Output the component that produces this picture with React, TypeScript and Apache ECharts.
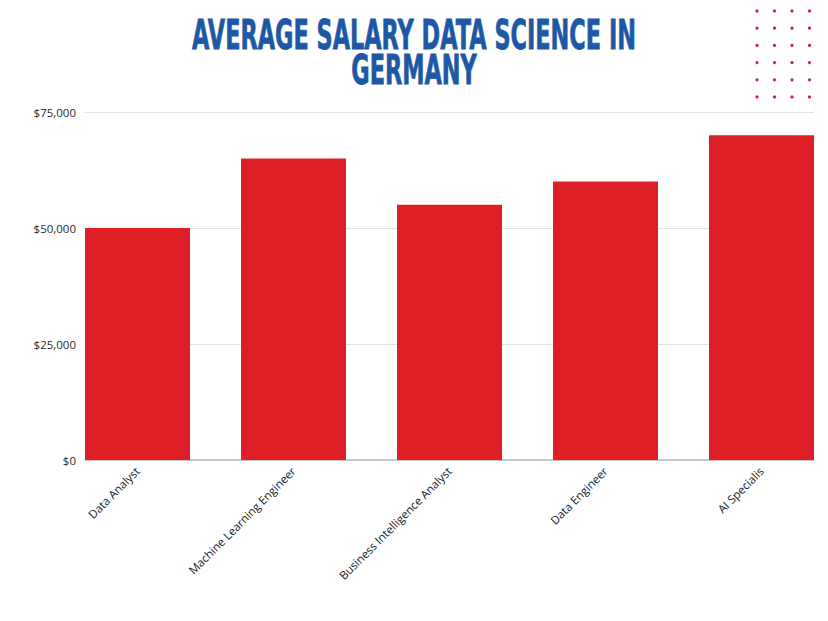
import React, { useEffect, useRef } from "react";
import * as echarts from "echarts";

const categories = [
  "Data Analyst",
  "Machine Learning Engineer",
  "Business Intelligence Analyst",
  "Data Engineer",
  "AI Specialis",
];
const salaries = [50000, 65000, 55000, 60000, 70000];
const yTicks = { min: 0, max: 75000, interval: 25000 };
const titleLines = ["AVERAGE SALARY DATA SCIENCE IN", "GERMANY"];

const FONT = "'Open Sans', 'Noto Sans', sans-serif";

export default function App() {
  const ref = useRef<HTMLDivElement>(null);
  useEffect(() => {
    document.body.style.margin = "0";
    const chart = echarts.init(ref.current!, null, { renderer: "svg" });
    const dots: any[] = [];
    const dotX = [757, 774.5, 792, 809.5];
    for (let r = 0; r < 6; r++) {
      for (let c = 0; c < 4; c++) {
        dots.push({
          type: "circle",
          shape: { cx: dotX[c], cy: 11 + r * 17.2, r: 1.6 },
          style: { fill: "#d6202a" },
          silent: true,
        });
      }
    }
    chart.setOption({
      animation: false,
      backgroundColor: "#ffffff",
      textStyle: { fontFamily: FONT },
      graphic: [
        ...titleLines.map((t, i) => ({
          type: "text",
          x: 414,
          y: 35.5 + i * 35,
          scaleX: 0.56,
          style: {
            text: t,
            fontFamily: "'DejaVu Sans', sans-serif",
            fontWeight: "bold",
            fontSize: 40,
            fill: "#1d58a5",
            stroke: "#1d58a5",
            lineWidth: 0.8,
            textAlign: "center",
            textVerticalAlign: "middle",
          },
        })),
        ...dots,
      ],
      grid: [
        { left: 85, top: 112, width: 729, height: 348, outerBoundsMode: "none", containLabel: false },
        { left: 59.5, top: 112, width: 780, height: 348, outerBoundsMode: "none", containLabel: false },
      ],
      xAxis: [
        {
          type: "category",
          gridIndex: 0,
          data: [""],
          axisLine: { show: true, lineStyle: { color: "#bdbdbd", width: 1.5 } },
          axisTick: { show: false },
          axisLabel: { show: false },
        },
        {
          type: "category",
          gridIndex: 1,
          data: categories,
          axisLine: { show: false },
          axisTick: { show: false },
          axisLabel: {
            rotate: 45,
            fontSize: 11.5,
            color: "#1a1a1a",
            margin: 9,
            fontFamily: FONT,
          },
        },
      ],
      yAxis: [
        {
          type: "value",
          gridIndex: 0,
          min: yTicks.min,
          max: yTicks.max,
          interval: yTicks.interval,
          axisLine: { show: false },
          axisTick: { show: false },
          axisLabel: {
            fontSize: 11.5,
            color: "#2a2a2a",
            margin: 9,
            fontFamily: FONT,
            formatter: (v: number) => "$" + v.toLocaleString("en-US"),
          },
          splitLine: { lineStyle: { color: "#e3e3e3", width: 1 } },
        },
        {
          type: "value",
          gridIndex: 1,
          min: yTicks.min,
          max: yTicks.max,
          interval: yTicks.interval,
          show: false,
          splitLine: { show: false },
        },
      ],
      series: [
        {
          type: "bar",
          xAxisIndex: 1,
          yAxisIndex: 1,
          data: salaries,
          barWidth: 105,
          itemStyle: { color: "#de1f26" },
        },
      ],
    });
    return () => chart.dispose();
  }, []);
  return (
    <div
      ref={ref}
      style={{ position: "fixed", left: 0, top: 0, width: 828, height: 621 }}
    />
  );
}
